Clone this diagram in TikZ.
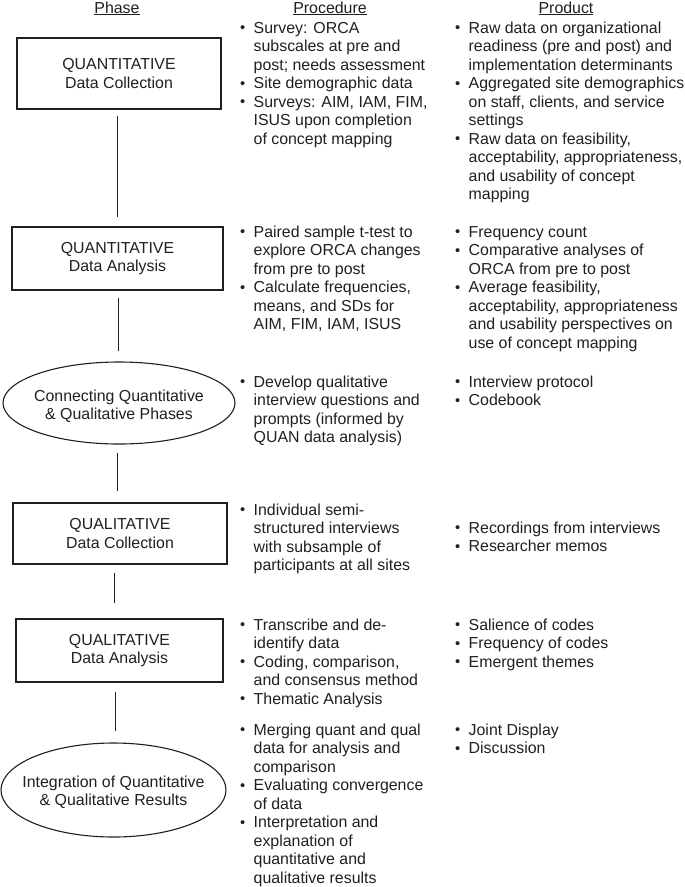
\documentclass[tikz,border=0pt]{standalone}
\usepackage{fontspec}
\setmainfont{Liberation Sans}
\usetikzlibrary{shapes.geometric}
\definecolor{ink}{RGB}{35,31,32}
\newcommand{\hdrline}[1]{\setbox0\hbox{#1}\rlap{\rule[-2.2pt]{\wd0}{0.9pt}}\box0}
\newcommand{\bu}{\makebox[13.5pt][l]{\raisebox{0.3pt}{\scalebox{0.92}{\textbullet}}}}
\newcommand{\ind}{\hspace*{13.5pt}}
\newcommand{\lst}[1]{\begin{tabular}[t]{@{}l@{}}#1\end{tabular}}
\begin{document}
\begin{tikzpicture}[x=1pt,y=-1pt,
  every node/.style={text=ink, font=\fontsize{15.9}{18.5}\selectfont},
  phasebox/.style={draw=ink, line width=1.1pt, rectangle, inner sep=0pt, align=center},
  phaseoval/.style={draw=ink, line width=1.1pt, ellipse, inner sep=0pt},
  col/.style={anchor=base west, inner sep=0pt},
  hdr/.style={anchor=base, inner sep=0pt},
  link/.style={draw=ink, line width=1pt}]
\fill[white] (0,0) rectangle (685,887);
\useasboundingbox (0,0) rectangle (685,887);

% headers
\node[hdr] (hphase) at (117,13) {\hdrline{Phase}};
\node[hdr] (hproc) at (330,13) {\hdrline{Procedure}};
\node[hdr] (hprod) at (566,13) {\hdrline{Product}};

% phase shapes
\node[phasebox, minimum width=204pt, minimum height=71pt] (b1) at (119,73.5) {QUANTITATIVE\\Data Collection};
\node[phasebox, minimum width=211pt, minimum height=63pt] (b2) at (117.5,258.5) {QUANTITATIVE\\Data Analysis};
\node[phaseoval, minimum width=232pt, minimum height=82pt,
  label={[align=center, yshift=-3pt]center:Connecting Quantitative\\\& Qualitative Phases}] (e1) at (119,403) {};
\node[phasebox, minimum width=214pt, minimum height=61pt] (b3) at (120,533.5) {QUALITATIVE\\Data Collection};
\node[phasebox, minimum width=207pt, minimum height=63pt] (b4) at (119.5,650.5) {QUALITATIVE\\Data Analysis};
\node[phaseoval, minimum width=225pt, minimum height=94pt,
  label={[align=center, yshift=-2pt]center:Integration of Quantitative\\\& Qualitative Results}] (e2) at (113.5,790) {};

% connectors
\draw[link] ([xshift=-2pt,yshift=-6pt]b1.south) -- ([xshift=-0.5pt,yshift=9pt]b2.north);
\draw[link] ([xshift=0.5pt,yshift=-7pt]b2.south) -- ([xshift=-1pt,yshift=10pt]e1.north);
\draw[link] ([xshift=-2pt,yshift=-8pt]e1.south) -- ([xshift=-3pt,yshift=11pt]b3.north);
\draw[link] ([xshift=-6pt,yshift=-8pt]b3.south) -- ([xshift=-5.5pt,yshift=15pt]b4.north);
\draw[link] ([xshift=-4.5pt,yshift=-9pt]b4.south) -- ([xshift=1.5pt,yshift=11pt]e2.north);

% procedure column
\node[col] (p1) at (240,33) {\lst{\bu Survey: ORCA\\
\ind subscales at pre and\\
\ind post; needs assessment\\
\bu Site demographic data\\
\bu Surveys: AIM, IAM, FIM,\\
\ind ISUS upon completion\\
\ind of concept mapping}};
\node[col] (p2) at (240,237) {\lst{\bu Paired sample t-test to\\
\ind explore ORCA changes\\
\ind from pre to post\\
\bu Calculate frequencies,\\
\ind means, and SDs for\\
\ind AIM, FIM, IAM, ISUS}};
\node[col] (p3) at (240,387) {\lst{\bu Develop qualitative\\
\ind interview questions and\\
\ind prompts (informed by\\
\ind QUAN data analysis)}};
\node[col] (p4) at (240,515) {\lst{\bu Individual semi-\\
\ind structured interviews\\
\ind with subsample of\\
\ind participants at all sites}};
\node[col] (p5) at (240,630) {\lst{\bu Transcribe and de-\\
\ind identify data\\
\bu Coding, comparison,\\
\ind and consensus method\\
\bu Thematic Analysis}};
\node[col] (p6) at (240,735) {\lst{\bu Merging quant and qual\\
\ind data for analysis and\\
\ind comparison\\
\bu Evaluating convergence\\
\ind of data\\
\bu Interpretation and\\
\ind explanation of\\
\ind quantitative and\\
\ind qualitative results}};

% product column
\node[col] (r1) at (455,33) {\lst{\bu Raw data on organizational\\
\ind readiness (pre and post) and\\
\ind implementation determinants\\
\bu Aggregated site demographics\\
\ind on staff, clients, and service\\
\ind settings\\
\bu Raw data on feasibility,\\
\ind acceptability, appropriateness,\\
\ind and usability of concept\\
\ind mapping}};
\node[col] (r2) at (455,237) {\lst{\bu Frequency count\\
\bu Comparative analyses of\\
\ind ORCA from pre to post\\
\bu Average feasibility,\\
\ind acceptability, appropriateness\\
\ind and usability perspectives on\\
\ind use of concept mapping}};
\node[col] (r3) at (455,387) {\lst{\bu Interview protocol\\
\bu Codebook}};
\node[col] (r4) at (455,533) {\lst{\bu Recordings from interviews\\
\bu Researcher memos}};
\node[col] (r5) at (455,630) {\lst{\bu Salience of codes\\
\bu Frequency of codes\\
\bu Emergent themes}};
\node[col] (r6) at (455,735) {\lst{\bu Joint Display\\
\bu Discussion}};
\end{tikzpicture}
\end{document}
